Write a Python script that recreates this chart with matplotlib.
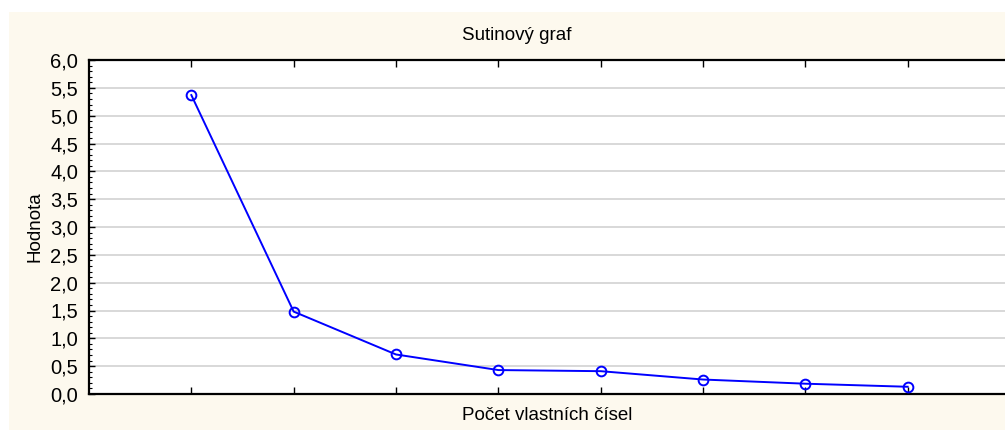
import numpy as np
import matplotlib
matplotlib.use("Agg")
import matplotlib.pyplot as plt
from matplotlib.patches import Rectangle
from matplotlib.ticker import MultipleLocator, FuncFormatter, NullFormatter

# -----------------------------
# Data
# -----------------------------
eigen_index = [1, 2, 3, 4, 5, 6, 7, 8]
eigen_values = [5.37, 1.48, 0.71, 0.43, 0.41, 0.26, 0.185, 0.13]

TITLE = "Sutinový graf"
XLABEL = "Počet vlastních čísel"
YLABEL = "Hodnota"

plt.rcParams["font.family"] = ["Liberation Sans", "DejaVu Sans"]

# -----------------------------
# Figure
# -----------------------------
W, H = 1005, 430
fig = plt.figure(figsize=(W / 100, H / 100), dpi=100, facecolor="white")

# cream panel behind everything
fig.patches.append(Rectangle((9 / W, 0), 1, 1 - 12 / H, transform=fig.transFigure,
                             facecolor="#fdf9ee", edgecolor="none", zorder=-10))

left, right = 89 / W, 1010 / W
bottom, top = 1 - 394 / H, 1 - 60 / H
ax = fig.add_axes([left, bottom, right - left, top - bottom])
ax.set_zorder(5)
ax.set_facecolor("white")

ax.plot(eigen_index, eigen_values, color="#0000ff", linewidth=1.4,
        marker="o", markersize=7, markerfacecolor="none",
        markeredgecolor="#0000ff", markeredgewidth=1.4, zorder=3, clip_on=False)

ax.set_xlim(0, 9)
ax.set_ylim(0, 6)
ax.set_xticks(eigen_index)
ax.xaxis.set_major_formatter(NullFormatter())
ax.yaxis.set_major_locator(MultipleLocator(0.5))
ax.yaxis.set_minor_locator(MultipleLocator(0.1))
ax.yaxis.set_major_formatter(FuncFormatter(lambda v, p: f"{v:.1f}".replace(".", ",")))

ax.grid(True, axis="y", color="#d6d6d6", linewidth=1.3, zorder=1)
ax.tick_params(axis="x", which="major", direction="in", length=5, width=1,
               top=True, bottom=True, color="black")
ax.tick_params(axis="y", which="major", direction="in", length=4, width=1,
               labelsize=14.5, pad=8, color="black")
ax.tick_params(axis="y", which="minor", direction="in", length=2, width=0.8)

for s in ["left", "bottom", "top"]:
    ax.spines[s].set_linewidth(1.6)
    ax.spines[s].set_color("black")
ax.spines["right"].set_visible(False)

ax.set_ylabel(YLABEL, fontsize=13.5, labelpad=5)
fig.text((89 + 1005) / 2 / W, 1 - 415 / H, XLABEL, ha="center", va="center", fontsize=13.5)
fig.text(517 / W, 1 - 36 / H, TITLE, ha="center", va="center", fontsize=13.5)

fig.savefig("out.png", dpi=100, facecolor=fig.get_facecolor())
